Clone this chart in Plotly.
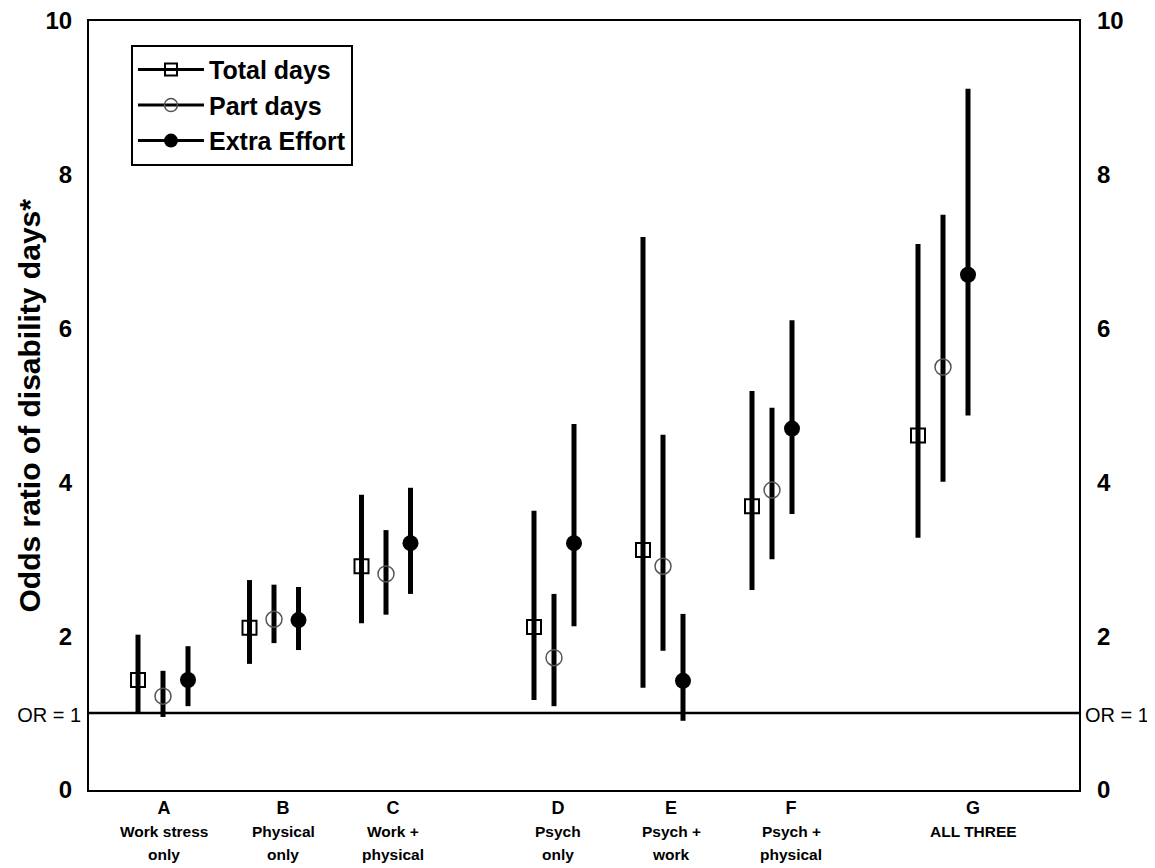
import plotly.graph_objects as go

# ---- data ----
groups = ["A", "B", "C", "D", "E", "F", "G"]
desc_line1 = ["Work stress", "Physical", "Work +", "Psych", "Psych +", "Psych +", "ALL THREE"]
desc_line2 = ["only", "only", "physical", "only", "work", "physical", ""]

total_or = [1.43, 2.11, 2.91, 2.12, 3.12, 3.69, 4.61]
total_lo = [1.00, 1.64, 2.17, 1.17, 1.33, 2.60, 3.28]
total_hi = [2.02, 2.73, 3.84, 3.63, 7.19, 5.19, 7.10]

part_or = [1.22, 2.22, 2.81, 1.72, 2.91, 3.90, 5.50]
part_lo = [0.95, 1.91, 2.28, 1.09, 1.81, 3.00, 4.01]
part_hi = [1.55, 2.67, 3.38, 2.55, 4.62, 4.97, 7.48]

extra_or = [1.43, 2.21, 3.21, 3.21, 1.42, 4.70, 6.70]
extra_lo = [1.09, 1.82, 2.55, 2.13, 0.90, 3.59, 4.87]
extra_hi = [1.87, 2.64, 3.93, 4.76, 2.29, 6.11, 9.12]

y_ticks = [0, 1, 2, 4, 6, 8, 10]
y_labels = ["0", "OR = 1", "2", "4", "6", "8", "10"]

# ---- layout positions ----
centers = [0.74, 1.85, 2.97, 4.65, 5.74, 6.83, 8.54]
spacing = [0.25, 0.245, 0.245, 0.20, 0.20, 0.20, 0.25]
label_pos = [0.75, 1.94, 3.04, 4.69, 5.82, 7.02, 8.84]

x_total = [c - s for c, s in zip(centers, spacing)]
x_part = list(centers)
x_extra = [c + s for c, s in zip(centers, spacing)]

FONT = "Liberation Sans, Arial, sans-serif"


def fmt_tick(lbl, side):
    if lbl.startswith("OR"):
        return "<span style='font-size:20px'>" + lbl + "</span>"
    if side == "left":
        return "<b>" + lbl + "</b><span style='font-size:18px'>\u2002</span>"
    return "\u2002<b>" + lbl + "</b>"


def err(vals, lo, hi):
    return dict(type="data", symmetric=False,
                array=[h - v for v, h in zip(vals, hi)],
                arrayminus=[v - l for v, l in zip(vals, lo)],
                thickness=5, width=0, color="black")


fig = go.Figure()

fig.add_trace(go.Scatter(x=x_total, y=total_or, mode="markers", showlegend=False,
                         error_y=err(total_or, total_lo, total_hi),
                         marker=dict(symbol="square-open", size=14, color="black",
                                     line=dict(width=2, color="black"))))
fig.add_trace(go.Scatter(x=x_part, y=part_or, mode="markers", showlegend=False,
                         error_y=err(part_or, part_lo, part_hi),
                         marker=dict(symbol="circle-open", size=16, color="#555",
                                     line=dict(width=1.5, color="#555"))))
fig.add_trace(go.Scatter(x=x_extra, y=extra_or, mode="markers", showlegend=False,
                         error_y=err(extra_or, extra_lo, extra_hi),
                         marker=dict(symbol="circle", size=16, color="black")))

# legend entries (line + marker)
fig.add_trace(go.Scatter(x=[None], y=[None], mode="lines+markers", name="<b>Total days</b>",
                         line=dict(color="black", width=3),
                         marker=dict(symbol="square-open", size=12, color="black",
                                     line=dict(width=2, color="black"))))
fig.add_trace(go.Scatter(x=[None], y=[None], mode="lines+markers", name="<b>Part days</b>",
                         line=dict(color="black", width=3),
                         marker=dict(symbol="circle-open", size=13, color="#555",
                                     line=dict(width=1.5, color="#555"))))
fig.add_trace(go.Scatter(x=[None], y=[None], mode="lines+markers", name="<b>Extra Effort</b>",
                         line=dict(color="black", width=3),
                         marker=dict(symbol="circle", size=14, color="black")))

# invisible trace so the right axis renders
fig.add_trace(go.Scatter(x=[None], y=[None], yaxis="y2", showlegend=False, hoverinfo="skip"))

# OR = 1 reference line
fig.add_shape(type="line", xref="paper", x0=0, x1=1, yref="y", y0=1, y1=1,
              line=dict(color="black", width=2.5))

# category descriptions
for xp, l1, l2 in zip(label_pos, desc_line1, desc_line2):
    fig.add_annotation(x=xp, y=0, xref="x", yref="paper", yshift=-41,
                       text="<b>" + l1 + "</b>", showarrow=False,
                       font=dict(family=FONT, size=15.5, color="black"),
                       yanchor="middle", xanchor="center")
    if l2:
        fig.add_annotation(x=xp, y=0, xref="x", yref="paper", yshift=-64,
                           text="<b>" + l2 + "</b>", showarrow=False,
                           font=dict(family=FONT, size=15.5, color="black"),
                           yanchor="middle", xanchor="center")

# y axis title
fig.add_annotation(x=0, y=0.5, xref="paper", yref="paper", xshift=-60,
                   text="<b>Odds ratio of disability days*</b>", textangle=-90,
                   showarrow=False, font=dict(family=FONT, size=30, color="black"),
                   xanchor="center", yanchor="middle")

fig.update_layout(
    width=1155, height=868,
    margin=dict(l=81, r=84, t=13, b=86),
    paper_bgcolor="white", plot_bgcolor="white",
    font=dict(family=FONT, color="black"),
    xaxis=dict(range=[0, 9.9], tickvals=label_pos,
               ticktext=["<b>" + g + "</b>" for g in groups],
               tickfont=dict(size=18, family=FONT), ticks="", ticklabelstandoff=0,
               showgrid=False, zeroline=False, showline=True, mirror=True,
               linecolor="black", linewidth=2, automargin=False),
    yaxis=dict(range=[0, 10], tickvals=y_ticks,
               ticktext=[fmt_tick(t, "left") for t in y_labels],
               tickfont=dict(size=24, family=FONT), ticks="", ticklabelstandoff=1,
               ticklabeloverflow="allow",
               showgrid=False, zeroline=False, showline=True, mirror=True,
               linecolor="black", linewidth=2, automargin=False),
    yaxis2=dict(range=[0, 10], tickvals=y_ticks,
                ticktext=[fmt_tick(t, "right") for t in y_labels],
                tickfont=dict(size=24, family=FONT), ticks="", ticklabelstandoff=5,
                ticklabeloverflow="allow",
                overlaying="y", side="right", showgrid=False, zeroline=False,
                showline=False, automargin=False),
    legend=dict(x=0.0424, y=0.969, xanchor="left", yanchor="top",
                bordercolor="black", borderwidth=2, bgcolor="white",
                font=dict(size=25, family=FONT, color="black"),
                itemwidth=66, tracegroupgap=0),
)

fig.write_html("out.html")
